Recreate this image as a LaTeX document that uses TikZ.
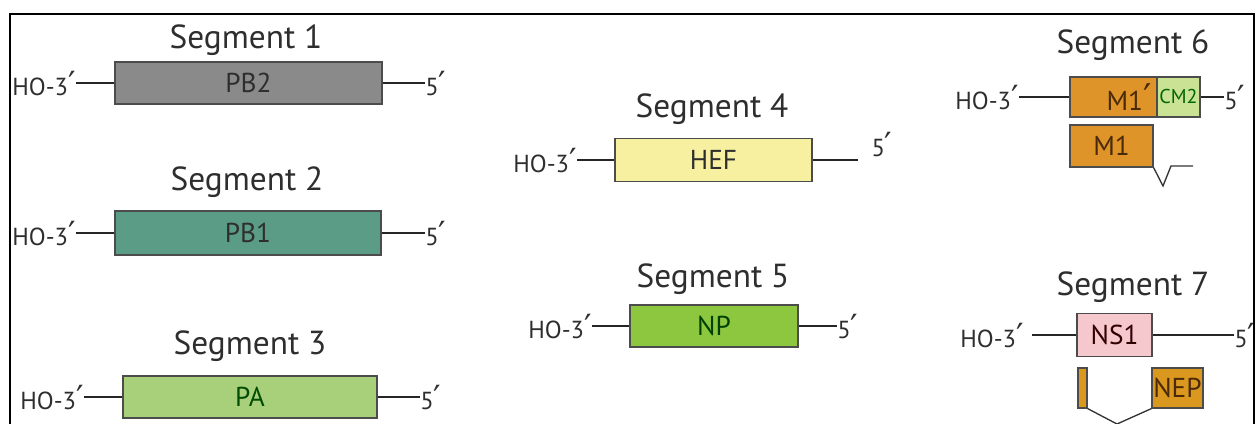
\documentclass[tikz,border=0pt]{standalone}
\usepackage{fontspec}
\setmainfont{PT Sans}
\newfontfamily\primefont[Scale=1.35]{DejaVu Sans}
\newcommand{\pr}{{\primefont\char"2032}}
\definecolor{txt}{HTML}{2E2E2E}
\definecolor{cPBtwo}{HTML}{8A8A8A}
\definecolor{cPBone}{HTML}{5A9C86}
\definecolor{cPA}{HTML}{A8D07A}
\definecolor{cHEF}{HTML}{F7F0A0}
\definecolor{cNP}{HTML}{8DC63F}
\definecolor{cM}{HTML}{DE9428}
\definecolor{cCM}{HTML}{CAE294}
\definecolor{cNS}{HTML}{F5C8CE}
\definecolor{cNEP}{HTML}{DA981F}
\definecolor{tbrown}{HTML}{4A2A08}
\begin{document}
\begin{tikzpicture}[x=0.75pt,y=-0.75pt,
  gbox/.style={draw=black!70,line width=0.9pt,minimum height=42*0.75pt,inner sep=0pt,font=\fontsize{20.5}{20.5}\selectfont,text=txt},
  ttl/.style={font=\fontsize{25}{25}\selectfont,text=txt,inner sep=0pt},
  lbl/.style={font=\fontsize{18.5}{18.5}\selectfont,text=txt,inner sep=0pt},
  ln/.style={line width=1.4pt,black!85}]
\useasboundingbox (0,0) rectangle (1260,424);
\draw[line width=1.5pt] (10,424) -- (10,14) -- (1254,14) -- (1254,424);
% Segment 1
\node[ttl] (t1) at (246,40) {Segment 1};
\node[gbox,fill=cPBtwo,minimum width=267*0.75pt] (b1) at (248.5,83) {PB2};
\node[lbl,anchor=east] (h1) at (76,84) {HO-3\pr};
\node[lbl,anchor=west] (f1) at (425,84) {5\pr};
\draw[ln] (h1.east|-b1.west) -- (b1.west);
\draw[ln] (b1.east) -- (f1.west|-b1.east);
% Segment 2
\node[ttl] (t2) at (247,182) {Segment 2};
\node[gbox,fill=cPBone,minimum width=266*0.75pt,minimum height=44*0.75pt] (b2) at (248,233) {PB1};
\node[lbl,anchor=east] (h2) at (76,234) {HO-3\pr};
\node[lbl,anchor=west] (f2) at (425,234) {5\pr};
\draw[ln] (h2.east|-b2.west) -- (b2.west);
\draw[ln] (b2.east) -- (f2.west|-b2.east);
% Segment 3
\node[ttl] (t3) at (250,346) {Segment 3};
\node[gbox,fill=cPA,text=green!30!black,minimum width=254*0.75pt] (b3) at (250,397) {PA};
\node[lbl,anchor=east] (h3) at (84,398) {HO-3\pr};
\node[lbl,anchor=west] (f3) at (420,398) {5\pr};
\draw[ln] (h3.east|-b3.west) -- (b3.west);
\draw[ln] (b3.east) -- (f3.west|-b3.east);
% Segment 4
\node[ttl] (t4) at (712,109) {Segment 4};
\node[gbox,fill=cHEF,minimum width=197*0.75pt,minimum height=43*0.75pt] (b4) at (713.5,160) {HEF};
\node[lbl,anchor=east] (h4) at (577,161) {HO-3\pr};
\node[lbl] (f4) at (882,145) {5\pr};
\coordinate (e4) at (858,160);
\draw[ln] (h4.east|-b4.west) -- (b4.west);
\draw[ln] (b4.east) -- (e4);
% Segment 5
\node[ttl] (t5) at (713,279) {Segment 5};
\node[gbox,fill=cNP,text=green!25!black,minimum width=168*0.75pt] (b5) at (714,326) {NP};
\node[lbl,anchor=east] (h5) at (592,327) {HO-3\pr};
\node[lbl,anchor=west] (f5) at (837,327) {5\pr};
\draw[ln] (h5.east|-b5.west) -- (b5.west);
\draw[ln] (b5.east) -- (f5.west|-b5.east);
% Segment 6
\node[ttl] (t6) at (1133,45) {Segment 6};
\node[gbox,fill=cM,minimum width=87*0.75pt,minimum height=40*0.75pt] (b6a) at (1113.5,97) {};
\node[gbox,draw=none,text=tbrown,anchor=east] (m1p) at (1152,97) {M1\pr};
\node[gbox,fill=cCM,text=green!40!black,minimum width=43*0.75pt,minimum height=40*0.75pt,font=\fontsize{15}{15}\selectfont] (b6b) at (1178.5,97) {CM2};
\node[gbox,fill=cM,text=tbrown,minimum width=83*0.75pt] (b6c) at (1111.5,146) {M1};
\node[lbl,anchor=east] (h6) at (1019,98) {HO-3\pr};
\node[lbl,anchor=west] (f6) at (1224,98) {5\pr};
\draw[ln] (h6.east|-b6a.west) -- (b6a.west);
\draw[ln] (b6b.east) -- (f6.west|-b6b.east);
\coordinate (v6a) at (1163,186);
\coordinate (v6b) at (1171,166);
\coordinate (v6c) at (1193,166);
\draw[line width=1pt,black!80] (b6c.south east) -- (v6a) -- (v6b) -- (v6c);
% Segment 7
\node[ttl] (t7) at (1133,287) {Segment 7};
\node[gbox,fill=cNS,text=black!80!red,minimum width=75*0.75pt,minimum height=43*0.75pt] (b7) at (1114.5,335) {NS1};
\node[lbl,anchor=east] (h7) at (1024,336) {HO-3\pr};
\node[lbl,anchor=west] (f7) at (1234,336) {5\pr};
\coordinate (s7) at (1032,335);
\draw[ln] (s7) -- (b7.west);
\draw[ln] (b7.east) -- (f7.west|-b7.east);
\node[gbox,fill=cNEP,minimum width=9*0.75pt,minimum height=40*0.75pt] (bar7) at (1082.5,388) {};
\node[gbox,fill=cNEP,text=tbrown,minimum width=51*0.75pt,minimum height=40*0.75pt] (nep) at (1177.5,388) {NEP};
\coordinate (v7) at (1117,424);
\draw[line width=1pt,black!80] (bar7.south east) -- (v7) -- (nep.south west);
\end{tikzpicture}
\end{document}
